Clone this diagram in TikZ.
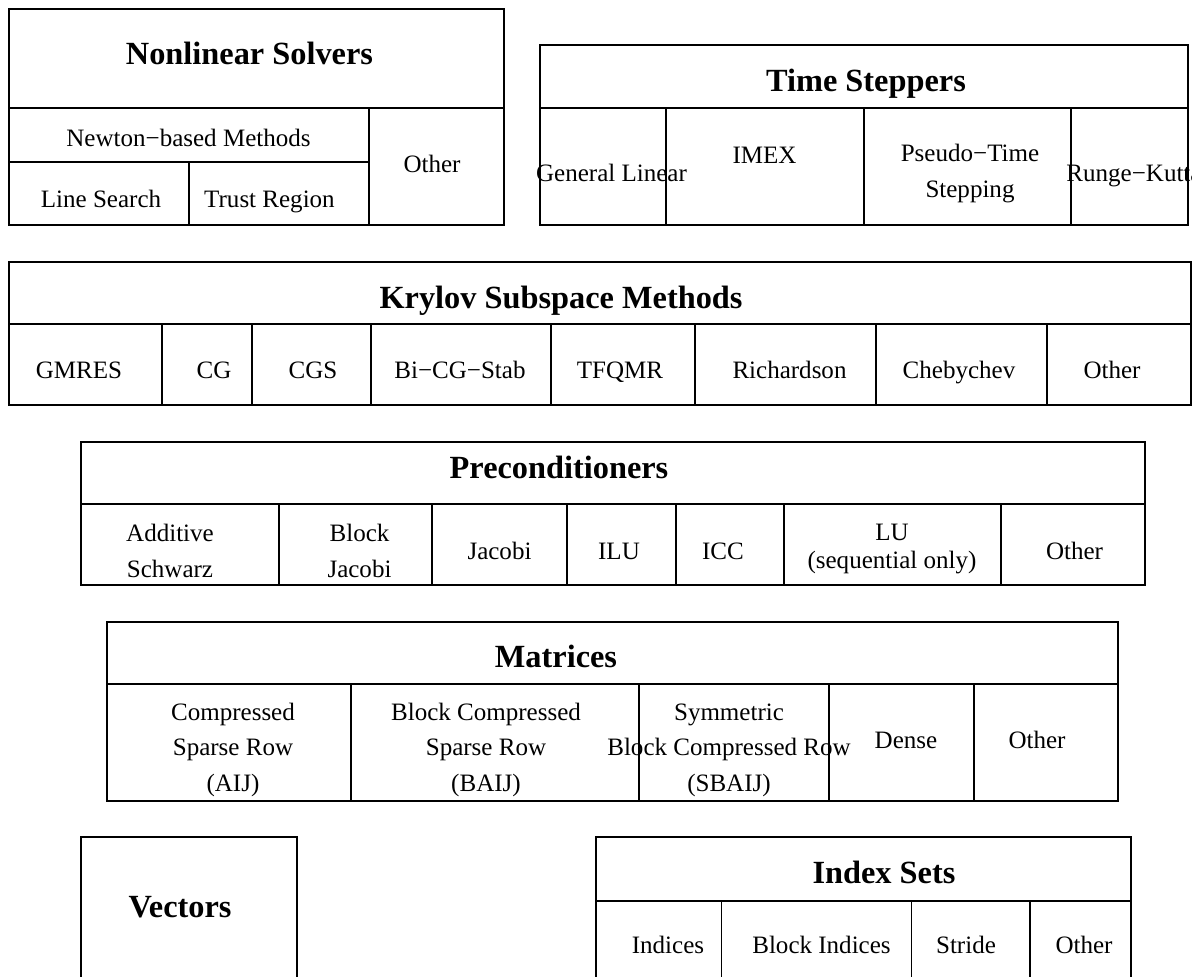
\documentclass[tikz,border=0pt]{standalone}
\usepackage{fontspec}
\setmainfont{Liberation Serif}
\usepackage{tikz}
\usetikzlibrary{positioning}

\tikzset{
  lbl/.style={inner sep=0pt, anchor=base, align=center, font=\fontsize{17.8}{24.9}\selectfont},
  ttl/.style={lbl, font=\fontsize{23}{28}\selectfont\bfseries}
}

\begin{document}
\begin{tikzpicture}[x=0.025cm, y=-0.025cm, line width=0.8pt]
		\useasboundingbox (0,0) rectangle (1192,976);
		\clip (0,0) rectangle (1192,976);

		% nonlinear solvers
		\draw (9,9) rectangle (504,225);
		\draw (9,108) -- (504,108);
		\draw (9,162) -- (369,162);
		\draw (369,108) -- (369,225);
		\draw (189,162) -- (189,225);
		\draw (249.5,64) node[ttl] (snes) {Nonlinear Solvers}
		(188.5,146) node[lbl] (newton) {Newton−based Methods}
		(101,207) node[lbl] (lsearch) {Line Search}
		(269.5,207) node[lbl] (tregion) {Trust Region}
		(432,172) node[lbl] (snesother) {Other};

		% time steppers
		\draw (540,45) rectangle (1188,225);
		\draw (540,108) -- (1188,108);
		\foreach \x in {666, 864, 1071}
			\draw (\x,108) -- (\x,225);
		\draw (866,91) node[ttl] (ts) {Time Steppers}
		(611.5,181) node[lbl] (glinear) {General Linear}
		(764.5,163) node[lbl] (imex) {IMEX}
		(970,197) node[lbl] (pseudo) {Pseudo−Time\\Stepping}
		(1134,181) node[lbl] (rk) {Runge−Kutta};

		% krylov
		\draw (9,262) rectangle (1191,405);
		\draw (9,324) -- (1191,324);
		\foreach \x in {162, 252, 371, 551, 695, 876, 1047}
			\draw (\x,324) -- (\x,405);
		\draw (561,308) node[ttl] (ksp) {Krylov Subspace Methods}
		(79,378) node[lbl] (gmres) {GMRES}
		(214,378) node[lbl] (cg) {CG}
		(313,378) node[lbl] (cgs) {CGS}
		(460,378) node[lbl] (bicg) {Bi−CG−Stab}
		(620,378) node[lbl] (tfqmr) {TFQMR}
		(789.5,378) node[lbl] (rich) {Richardson}
		(959,378) node[lbl] (cheby) {Chebychev}
		(1112,378) node[lbl] (kspother) {Other};

		% preconditioners
		\draw (81,442) rectangle (1145,585);
		\draw (81,504) -- (1145,504);
		\foreach \x in {279, 432, 567, 676, 784, 1001}
			\draw (\x,504) -- (\x,585);
		\draw (559,478) node[ttl] (pc) {Preconditioners}
		(170,577) node[lbl] (asm) {Additive\\Schwarz}
		(359.5,577) node[lbl] (bjacobi) {Block\\Jacobi}
		(499.5,559) node[lbl] (jacobi) {Jacobi}
		(619,559) node[lbl] (ilu) {ILU}
		(723,559) node[lbl] (icc) {ICC}
		(892,568) node[lbl] (lu) {LU\\[-0.2cm](sequential only)}
		(1074.5,559) node[lbl] (pcother) {Other};

		% matrices
		\draw (107,622) rectangle (1118,801);
		\draw (107,684) -- (1118,684);
		\foreach \x in {351, 639, 829, 974}
			\draw (\x,684) -- (\x,801);
		\draw (556,667) node[ttl] (mat) {Matrices}
		(233,791) node[lbl] (aij) {Compressed\\Sparse Row\\(AIJ)}
		(486,791) node[lbl] (baij) {Block Compressed\\Sparse Row\\(BAIJ)}
		(729,791) node[lbl] (sbaij) {Symmetric\\Block Compressed Row\\(SBAIJ)}
		(906,748) node[lbl] (dense) {Dense}
		(1037,748) node[lbl] (matother) {Other};

		% vectors and index sets
		\draw (81,837) rectangle (297,995);
		\draw (180,917) node[ttl] (vec) {Vectors};
		\draw (596,837) rectangle (1131,995);
		\draw (596,901) -- (1131,901);
		\foreach \x in {721.5, 911.5, 1030}
			\draw (\x,901) -- (\x,995);
		\draw (884,883) node[ttl] (is) {Index Sets}
		(668,953) node[lbl] (indices) {Indices}
		(821.5,953) node[lbl] (bindices) {Block Indices}
		(966,953) node[lbl] (stride) {Stride}
		(1084,953) node[lbl] (isother) {Other};
\end{tikzpicture}
\end{document}
